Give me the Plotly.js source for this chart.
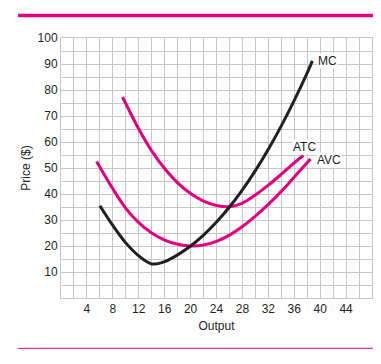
<!DOCTYPE html>
<html>
<head>
<meta charset="utf-8">
<script src="https://cdn.plot.ly/plotly-3.0.1.min.js"></script>
<style>
html,body{margin:0;padding:0;background:#fff;}
#chart{width:381px;height:364px;}
</style>
</head>
<body>
<div id="chart"></div>
<script>
// Data
const mcX  = [6, 8, 10, 12, 14, 16, 18, 20, 22, 24, 26, 28, 30, 32, 34, 36, 38, 38.8];
const mcY  = [35.5, 27.9, 21.2, 16.2, 13.1, 14.0, 16.6, 20.0, 24.2, 29.2, 35.0, 41.6, 49.0, 57.2, 66.2, 76.0, 86.6, 91.2];
const atcX = [9.5, 12, 14, 16, 18, 20, 22, 24, 26, 28, 30, 32, 34, 36, 37.4];
const atcY = [77.3, 65.0, 56.6, 49.8, 44.3, 40.2, 37.3, 35.6, 35.1, 36.5, 39.6, 43.4, 47.6, 52.0, 54.8];
const avcX = [5.5, 8, 10, 12, 14, 16, 18, 20, 22, 24, 26, 28, 30, 32, 34, 36, 38.5];
const avcY = [52.5, 42, 34.5, 29, 25, 22.3, 20.7, 20, 20.4, 21.8, 24.2, 27.5, 31.5, 36, 41, 46.5, 53.5];
const xTickVals = [0, 2, 4, 6, 8, 10, 12, 14, 16, 18, 20, 22, 24, 26, 28, 30, 32, 34, 36, 38, 40, 42, 44, 46, 48];
const xTickText = ['', '', '4', '', '8', '', '12', '', '16', '', '20', '', '24', '', '28', '', '32', '', '36', '', '40', '', '44', '', ''];
const yTickVals = [0, 5, 10, 15, 20, 25, 30, 35, 40, 45, 50, 55, 60, 65, 70, 75, 80, 85, 90, 95, 100];
const yTickText = ['', '', '10', '', '20', '', '30', '', '40', '', '50', '', '60', '', '70', '', '80', '', '90', '', '100'];
const curveLabels = ['MC', 'ATC', 'AVC'];

const pink = '#e5007d';
const ink = '#231f20';
const gridC = '#c6c6c6';
const fnt = {family: 'Liberation Sans, Arial, sans-serif', size: 12, color: ink};

const traces = [
  {x: atcX, y: atcY, mode: 'lines', line: {color: pink, width: 3, shape: 'spline'}, hoverinfo: 'skip'},
  {x: avcX, y: avcY, mode: 'lines', line: {color: pink, width: 3, shape: 'spline'}, hoverinfo: 'skip'},
  {x: mcX, y: mcY, mode: 'lines', line: {color: ink, width: 3, shape: 'spline'}, hoverinfo: 'skip'}
];

const layout = {
  width: 381, height: 364,
  margin: {l: 61, r: 9, t: 38, b: 66},
  paper_bgcolor: '#fff', plot_bgcolor: '#fff',
  showlegend: false,
  font: fnt,
  xaxis: {
    range: [0, 48], tickmode: 'array', tickvals: xTickVals, ticktext: xTickText,
    showgrid: true, gridcolor: gridC, gridwidth: 1, zeroline: false,
    showline: true, linecolor: gridC, linewidth: 1, mirror: true,
    ticks: '', ticklen: 0, tickfont: fnt, fixedrange: true,
    title: {text: 'Output', font: fnt, standoff: 6}
  },
  yaxis: {
    range: [0, 100], tickmode: 'array', tickvals: yTickVals, ticktext: yTickText,
    showgrid: true, gridcolor: gridC, gridwidth: 1, zeroline: false,
    showline: true, linecolor: gridC, linewidth: 1, mirror: true,
    ticks: '', ticklen: 0, tickfont: fnt, fixedrange: true,
    title: {text: 'Price ($)', font: fnt, standoff: 4}
  },
  shapes: [
    {type: 'line', xref: 'paper', yref: 'paper', x0: -0.138, x1: 1.003, y0: 1.0865, y1: 1.0865,
     line: {color: pink, width: 3.5}},
    {type: 'line', xref: 'paper', yref: 'paper', x0: -0.138, x1: 1.003, y0: -0.1935, y1: -0.1935,
     line: {color: pink, width: 1}}
  ],
  annotations: [
    {x: 39.5, y: 91.3, text: curveLabels[0], showarrow: false, xanchor: 'left', yanchor: 'middle', font: fnt, bgcolor: '#fff', borderpad: 0},
    {x: 37.6, y: 58.2, text: curveLabels[1], showarrow: false, xanchor: 'center', yanchor: 'middle', font: fnt, bgcolor: '#fff', borderpad: 0},
    {x: 39.4, y: 53.1, text: curveLabels[2], showarrow: false, xanchor: 'left', yanchor: 'middle', font: fnt, bgcolor: '#fff', borderpad: 0}
  ]
};

Plotly.newPlot('chart', traces, layout, {displayModeBar: false, staticPlot: true});
</script>
</body>
</html>
